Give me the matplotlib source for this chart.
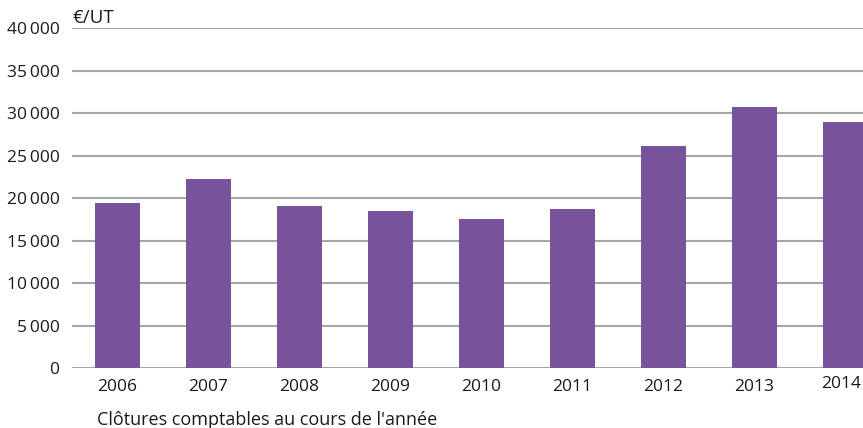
import matplotlib
matplotlib.use("Agg")
import matplotlib.pyplot as plt
import matplotlib.transforms as mtransforms
from matplotlib.ticker import FuncFormatter

years = ["2006", "2007", "2008", "2009", "2010", "2011", "2012", "2013", "2014"]
values = [19400, 22300, 19100, 18500, 17600, 18800, 26200, 30700, 29000]
yticks = [0, 5000, 10000, 15000, 20000, 25000, 30000, 35000, 40000]

plt.rcParams['font.family'] = ['Open Sans', 'DejaVu Sans']

fig = plt.figure(figsize=(8.63, 4.28), dpi=100)
ax = fig.add_axes([72 / 863, 1 - 368.3 / 428, 1 - 72 / 863, 340 / 428])

x = range(len(years))
ax.bar(x, values, width=0.5, color="#76539A", zorder=3)

ax.set_ylim(0, 40000)
ax.set_xlim(-0.5, (863 - 72) / 91 - 0.5)
ax.set_yticks(yticks)

def fmt(v, pos):
    v = int(v)
    if v >= 1000:
        s = f"{v:,}".replace(",", "\u2009")
        return s
    return str(v)

ax.yaxis.set_major_formatter(FuncFormatter(fmt))
ax.set_xticks(list(x))
ax.set_xticklabels(years)

ax.grid(axis="y", color="#a6a6a6", linewidth=1.5, zorder=0)
ax.grid(axis="x", visible=False)
for s in ax.spines.values():
    s.set_visible(False)
ax.tick_params(axis="both", length=0, labelsize=12.5, colors="#1a1a1a")
ax.tick_params(axis="y", pad=9)
ax.tick_params(axis="x", pad=8)

# last label shifted to stay inside the figure, as in the reference
last = ax.get_xticklabels()[-1]
last.set_transform(last.get_transform() +
                   mtransforms.ScaledTranslation(-4 / 100, 3 / 100, fig.dpi_scale_trans))

fig.text(72 / 863, 1 - 18 / 428, "€/UT", fontsize=13.5, color="#1a1a1a", ha="left", va="center")
fig.text(97 / 863, 1 - 420 / 428, "Clôtures comptables au cours de l'année", fontsize=13,
         color="#1a1a1a", ha="left", va="center")

fig.savefig("out.png", dpi=100)
